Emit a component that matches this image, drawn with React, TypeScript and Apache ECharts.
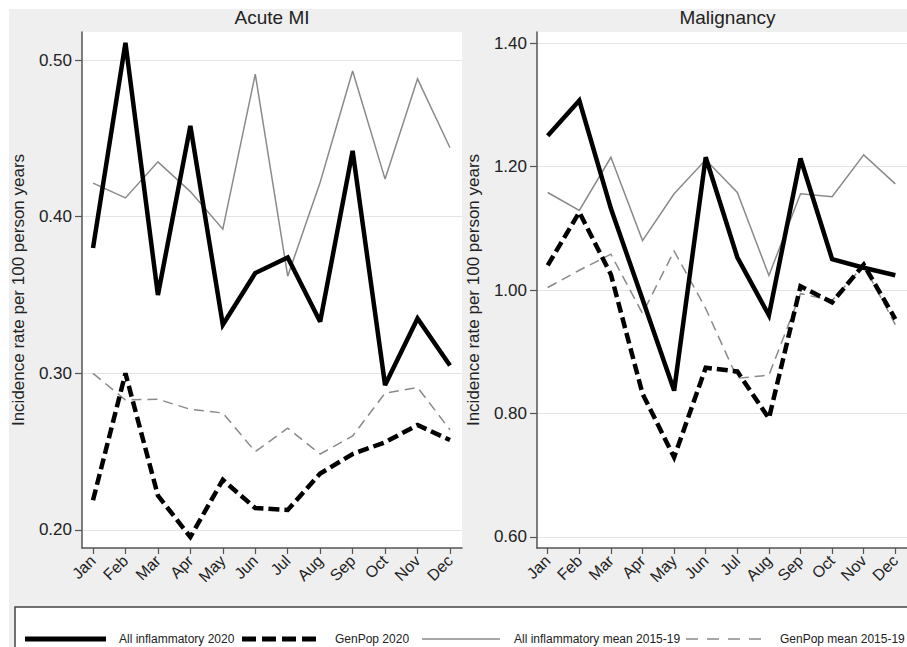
import React, { useEffect, useRef } from 'react';
import * as echarts from 'echarts';

const months = ['Jan', 'Feb', 'Mar', 'Apr', 'May', 'Jun', 'Jul', 'Aug', 'Sep', 'Oct', 'Nov', 'Dec'];
const monthTicks = [1, 2, 3, 4, 5, 6, 7, 8, 9, 10, 11, 12];

const panelTitles = ['Acute MI', 'Malignancy'];
const yAxisTitle = 'Incidence rate per 100 person years';
const seriesNames = ['All inflammatory 2020', 'GenPop 2020', 'All inflammatory mean 2015-19', 'GenPop mean 2015-19'];

// Acute MI
const miAllInfl2020 = [0.380, 0.511, 0.350, 0.458, 0.331, 0.364, 0.374, 0.333, 0.442, 0.2925, 0.335, 0.305];
const miGenPop2020 = [0.219, 0.300, 0.222, 0.1955, 0.232, 0.214, 0.2128, 0.236, 0.2485, 0.256, 0.267, 0.2574];
const miAllInflMean = [0.4214, 0.412, 0.435, 0.416, 0.392, 0.491, 0.362, 0.422, 0.493, 0.424, 0.488, 0.444];
const miGenPopMean = [0.300, 0.283, 0.2835, 0.277, 0.2747, 0.250, 0.265, 0.2485, 0.260, 0.2874, 0.291, 0.264];

// Malignancy
const malAllInfl2020 = [1.250, 1.307, 1.132, 0.985, 0.837, 1.215, 1.053, 0.959, 1.213, 1.050, 1.036, 1.024];
const malGenPop2020 = [1.040, 1.126, 1.025, 0.832, 0.729, 0.874, 0.868, 0.792, 1.006, 0.980, 1.041, 0.953];
const malAllInflMean = [1.158, 1.129, 1.215, 1.080, 1.156, 1.211, 1.158, 1.0235, 1.156, 1.151, 1.219, 1.172];
const malGenPopMean = [1.004, 1.032, 1.058, 0.962, 1.063, 0.970, 0.857, 0.862, 0.994, 0.983, 1.040, 0.944];

const miTicks = [0.2, 0.3, 0.4, 0.5];
const malTicks = [0.6, 0.8, 1.0, 1.2, 1.4];

const FONT = '"Liberation Sans", Arial, Helvetica, sans-serif';
const TEXT = '#222';
const AXIS = '#555';
const GRAYLINE = '#8a8a8a';

const toPts = (arr: number[]) => arr.map((v, i) => [i + 1, v]);

const styles = [
  { color: '#000', width: 4.5, type: 'solid' as any },
  { color: '#000', width: 4.5, type: [11, 5] as any },
  { color: GRAYLINE, width: 1.5, type: 'solid' as any },
  { color: GRAYLINE, width: 1.5, type: [10, 6] as any },
];

function mkSeries(idx: number, data: number[], grid: number) {
  const s = styles[idx];
  return {
    type: 'line',
    name: seriesNames[idx],
    xAxisIndex: grid,
    yAxisIndex: grid,
    data: toPts(data),
    symbol: 'none',
    showSymbol: false,
    z: idx < 2 ? 5 : 3,
    lineStyle: { color: s.color, width: s.width, type: s.type, join: 'miter', miterLimit: 3, cap: 'butt' },
  };
}

function xAxis(grid: number) {
  return {
    type: 'value',
    gridIndex: grid,
    min: 0.661,
    max: 12.37,
    splitLine: { show: false },
    axisLine: { show: true, lineStyle: { color: AXIS, width: 1.5 } },
    axisTick: { show: true, customValues: monthTicks, length: 6, lineStyle: { color: AXIS, width: 1.2 } },
    axisLabel: {
      customValues: monthTicks,
      formatter: (v: number) => months[Math.round(v) - 1],
      rotate: 45,
      margin: 10,
      fontSize: 16,
      fontFamily: FONT,
      color: TEXT,
    },
  };
}

function yAxis(grid: number, min: number, max: number, ticks: number[]) {
  return {
    type: 'value',
    gridIndex: grid,
    min,
    max,
    name: yAxisTitle,
    nameLocation: 'middle',
    nameGap: 55,
    nameTextStyle: { fontSize: 17, fontFamily: FONT, color: TEXT },
    axisLine: { show: true, lineStyle: { color: AXIS, width: 1.5 } },
    axisTick: { show: true, customValues: ticks, length: 7, lineStyle: { color: AXIS, width: 1.2 } },
    axisLabel: {
      customValues: ticks,
      formatter: (v: number) => v.toFixed(2),
      margin: 10,
      fontSize: 17,
      fontFamily: FONT,
      color: TEXT,
    },
    splitLine: { show: true, lineStyle: { color: '#e4e4e4', width: 1.2 } },
  };
}

function decorGraphics() {
  const y = 639;
  const items: any[] = [
    {
      type: 'rect',
      shape: { x: 9, y: 9, width: 910, height: 650 },
      style: { fill: '#efefef' },
      z: -10,
      silent: true,
    },
    {
      type: 'rect',
      shape: { x: 15, y: 607, width: 1000, height: 100 },
      style: { fill: '#fff', stroke: '#444', lineWidth: 1.5 },
      z: 10,
    },
  ];
  const entries = [
    { x1: 25, x2: 106, tx: 119, st: { stroke: '#000', lineWidth: 5 } },
    { x1: 242, x2: 316, tx: 335, st: { stroke: '#000', lineWidth: 5, lineDash: [14, 6] } },
    { x1: 422, x2: 500, tx: 514, st: { stroke: GRAYLINE, lineWidth: 1.5 } },
    { x1: 686, x2: 762, tx: 780, st: { stroke: GRAYLINE, lineWidth: 1.5, lineDash: [12, 9] } },
  ];
  entries.forEach((e, i) => {
    items.push({ type: 'line', shape: { x1: e.x1, y1: y, x2: e.x2, y2: y }, style: e.st, z: 11 });
    items.push({
      type: 'text',
      x: e.tx,
      y,
      style: { text: seriesNames[i], fontSize: 12, fontFamily: FONT, fill: TEXT, textAlign: 'left', textVerticalAlign: 'middle' },
      z: 11,
    });
  });
  const titleStyle = { fontSize: 19, fontFamily: FONT, fill: TEXT, textAlign: 'center', textVerticalAlign: 'middle' };
  items.push({ type: 'text', x: 272, y: 17, style: { ...titleStyle, text: panelTitles[0] }, z: 11 });
  items.push({ type: 'text', x: 727.5, y: 17, style: { ...titleStyle, text: panelTitles[1] }, z: 11 });
  return items;
}

export default function App() {
  const ref = useRef<HTMLDivElement>(null);
  useEffect(() => {
    if (!ref.current) return;
    const chart = echarts.init(ref.current, null, { renderer: 'svg' });
    const option: any = {
      animation: false,
      backgroundColor: '#ffffff',
      grid: [
        { left: 82, top: 32, width: 380, height: 516, show: true, backgroundColor: '#fff', borderWidth: 0 },
        { left: 537, top: 32, width: 381, height: 516, show: true, backgroundColor: '#fff', borderWidth: 0 },
      ],
      xAxis: [xAxis(0), xAxis(1)],
      yAxis: [yAxis(0, 0.1885, 0.5179, miTicks), yAxis(1, 0.582, 1.418, malTicks)],
      series: [
        mkSeries(2, miAllInflMean, 0),
        mkSeries(3, miGenPopMean, 0),
        mkSeries(1, miGenPop2020, 0),
        mkSeries(0, miAllInfl2020, 0),
        mkSeries(2, malAllInflMean, 1),
        mkSeries(3, malGenPopMean, 1),
        mkSeries(1, malGenPop2020, 1),
        mkSeries(0, malAllInfl2020, 1),
      ],
      graphic: decorGraphics(),
    };
    chart.setOption(option);
    return () => chart.dispose();
  }, []);
  return (
    <div style={{ position: 'fixed', left: 0, top: 0, width: 907, height: 647, background: '#fff', overflow: 'hidden' }}>
      <div ref={ref} style={{ width: 907, height: 647 }} />
    </div>
  );
}
